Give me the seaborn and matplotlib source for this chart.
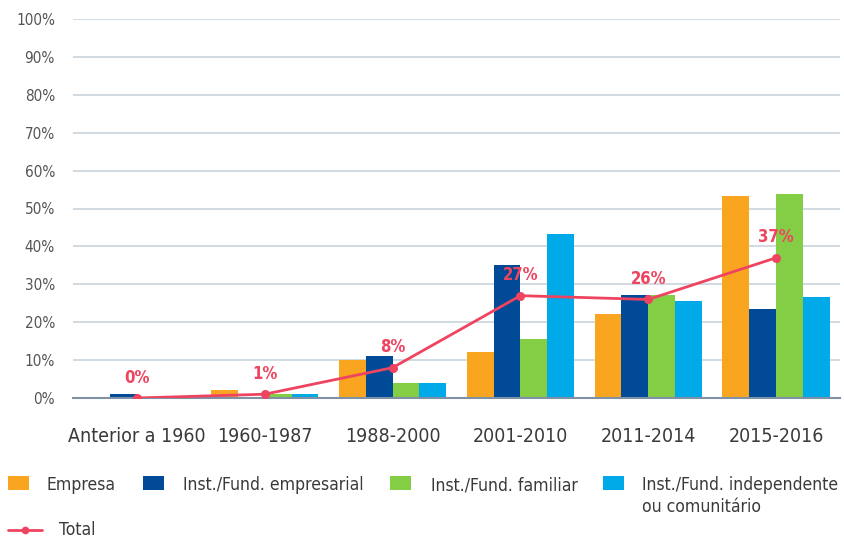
import numpy as np
import pandas as pd
import matplotlib
matplotlib.use("Agg")
import matplotlib.pyplot as plt
from matplotlib import font_manager
from matplotlib.patches import Rectangle
from matplotlib.lines import Line2D
import seaborn as sns

periodos = ["Anterior a 1960", "1960-1987", "1988-2000", "2001-2010", "2011-2014", "2015-2016"]
series = ["Empresa", "Inst./Fund. empresarial", "Inst./Fund. familiar",
          "Inst./Fund. independente\nou comunitário"]
empresa = [0, 2.1, 10, 12.1, 22.2, 53.4]
inst_empresarial = [1, 0, 11, 35.1, 27.2, 23.5]
inst_familiar = [0, 1, 4, 15.6, 27.2, 53.8]
inst_independente = [0, 1, 4, 43.3, 25.6, 26.6]
total = [0, 1, 8, 27, 26, 37]

cores = ["#F9A51F", "#004A98", "#84CE45", "#00A9E8"]
cor_total = "#EF4460"
cor_texto = "#3A3A3A"

sns.set_theme(style="white")

# a narrow sans face when one is available
nomes = {(f.name, f.stretch) for f in font_manager.fontManager.ttflist}
familias = {n for n, _ in nomes}
if "Liberation Sans Narrow" in familias:
    plt.rcParams["font.family"] = ["Liberation Sans Narrow", "DejaVu Sans"]
elif ("DejaVu Sans", "condensed") in nomes or ("DejaVu Sans", 300) in nomes:
    plt.rcParams["font.family"] = ["DejaVu Sans"]
    plt.rcParams["font.stretch"] = "condensed"
else:
    plt.rcParams["font.family"] = ["Roboto", "DejaVu Sans"]

df = pd.DataFrame({
    "periodo": periodos * 4,
    "serie": sum([[s] * len(periodos) for s in series], []),
    "valor": empresa + inst_empresarial + inst_familiar + inst_independente,
})
df_total = pd.DataFrame({"periodo": periodos, "total": total})

W, H = 844, 539
fig = plt.figure(figsize=(W / 100, H / 100), dpi=100)
ax = fig.add_axes([73 / W, 141 / H, 767 / W, 379 / H])

sns.barplot(data=df, x="periodo", y="valor", hue="serie", order=periodos,
            hue_order=series, palette=cores, width=0.84, gap=0,
            saturation=1, ax=ax, legend=False, linewidth=0)
sns.pointplot(data=df_total, x="periodo", y="total", order=periodos,
              color=cor_total, markers="o", markersize=5, linewidth=2,
              ax=ax, zorder=5)

for i, v in enumerate(total):
    ax.text(i, v + 5.4, f"{v}%", ha="center", va="center", color=cor_total,
            fontsize=12, fontweight="bold")

ax.set_xlim(-0.5, 5.5)
ax.set_ylim(0, 100)
ax.set_yticks(np.arange(0, 101, 10))
ax.set_yticklabels([f"{t}%" for t in range(0, 101, 10)])
ax.yaxis.grid(True, color="#C9D3DD", linewidth=1.2)
ax.set_axisbelow(True)
for s in ["left", "right", "top"]:
    ax.spines[s].set_visible(False)
ax.spines["bottom"].set_color("#7F91A5")
ax.spines["bottom"].set_linewidth(1.5)
ax.set_xlabel("")
ax.set_ylabel("")
ax.tick_params(axis="y", length=0, pad=13, labelsize=11, labelcolor="#555555")
ax.tick_params(axis="x", which="major", length=0, pad=21, labelsize=14, labelcolor=cor_texto)
ax.set_xticks(np.arange(-0.5, 6, 1), minor=True)
ax.tick_params(axis="x", which="minor", length=19, width=1.3, color="#4E6580", direction="out")

# legenda desenhada em coordenadas de pixel da figura
def px(x, y):
    return x / W, 1 - y / H

legenda = [(8, 47), (143, 183), (390, 431), (603, 642)]
for cor, rotulo, (xq, xt) in zip(cores, series, legenda):
    x0, y0 = px(xq, 490)
    fig.patches.append(Rectangle((x0, y0), 21 / W, 14 / H, transform=fig.transFigure,
                                 facecolor=cor, edgecolor="none"))
    linhas = rotulo.split("\n")
    for k, texto in enumerate(linhas):
        tx, ty = px(xt, 490 + 22 * k)
        fig.text(tx, ty, texto, ha="left", va="baseline", fontsize=12.6, color=cor_texto)

lx0, ly = px(8, 530)
lx1, _ = px(42, 530)
fig.lines.append(Line2D([lx0, lx1], [ly, ly], transform=fig.transFigure, color=cor_total,
                        linewidth=2))
mx, _ = px(25, 530)
fig.lines.append(Line2D([mx], [ly], transform=fig.transFigure, color=cor_total,
                        marker="o", markersize=4.5, linewidth=0))
tx, ty = px(59, 535)
fig.text(tx, ty, "Total", ha="left", va="baseline", fontsize=12.6, color=cor_texto)

fig.savefig("out.png", dpi=100)
